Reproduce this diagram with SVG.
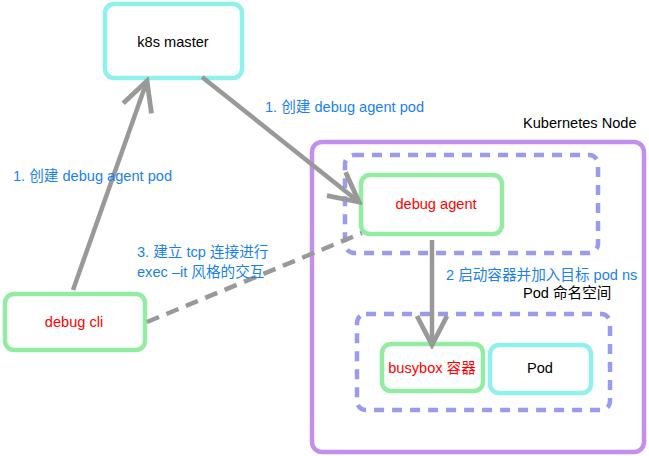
<svg xmlns="http://www.w3.org/2000/svg" width="649" height="456" viewBox="0 0 649 456">
<style>
text{font-family:"Liberation Sans","Noto Sans CJK SC",sans-serif;font-size:14.6px;dominant-baseline:central}
.blk{fill:#000}
.red{fill:#FF0000}
.blue{fill:#1A7FF2}
.g{fill:#fff;stroke:#92EDA3;stroke-width:4.5}
.c{fill:#fff;stroke:#90F0EC;stroke-width:4.5}
.p{fill:#fff;stroke:#C38FEF;stroke-width:4.5}
.d{fill:none;stroke:#9A9AEE;stroke-width:4.5;stroke-dasharray:10 8}
.ln{fill:none;stroke:#999;stroke-width:4.5}
</style>
<defs>
<marker id="ah" markerUnits="userSpaceOnUse" viewBox="-40 -20 44 40" refX="0" refY="0" markerWidth="44" markerHeight="40" orient="auto">
<path d="M-29,-15 L0,0 L-29,15" fill="none" stroke="#999" stroke-width="4.8"/>
</marker>
</defs>
<g id="node-k8s">
<rect class="c" x="105" y="4" width="137" height="74" rx="9"/>
<text class="blk" x="173" y="42" text-anchor="middle">k8s master</text>
</g>
<g id="kubernetes-node">
<rect class="p" x="312" y="142" width="332" height="310" rx="10"/>
<text class="blk" x="523" y="123">Kubernetes Node</text>
</g>
<g id="agent-area">
<rect class="d" x="345" y="155" width="253" height="98" rx="9"/>
</g>
<g id="pod-ns">
<rect class="d" x="357" y="314" width="253" height="96" rx="9"/>
<text class="blk" x="523" y="293">Pod 命名空间</text>
</g>
<g id="node-agent">
<rect class="g" x="361" y="175" width="141" height="59" rx="9"/>
<text class="red" x="436" y="204" text-anchor="middle">debug agent</text>
</g>
<g id="node-busybox">
<rect class="g" x="382" y="344" width="101" height="47" rx="9"/>
<text class="red" x="432" y="368" text-anchor="middle">busybox 容器</text>
</g>
<g id="node-pod">
<rect class="c" x="490" y="345" width="101" height="48" rx="9"/>
<text class="blk" x="540" y="368" text-anchor="middle">Pod</text>
</g>
<g id="node-cli">
<rect class="g" x="5" y="294" width="140" height="56" rx="9"/>
<text class="red" x="74" y="322" text-anchor="middle">debug cli</text>
</g>
<g id="connectors">
<line class="ln" x1="73" y1="290" x2="147" y2="81" marker-end="url(#ah)"/>
<line class="ln" x1="202" y1="77" x2="359" y2="202" marker-end="url(#ah)"/>
<line class="ln" x1="432" y1="240" x2="432" y2="345" marker-end="url(#ah)"/>
<line class="ln" x1="147" y1="322" x2="362" y2="233" stroke-dasharray="13 8"/>
<text class="blue" x="265" y="107">1. 创建 debug agent pod</text>
<text class="blue" x="13" y="176">1. 创建 debug agent pod</text>
<text class="blue" x="446" y="275">2 启动容器并加入目标 pod ns</text>
<text class="blue" x="137" y="252">3. 建立 tcp 连接进行</text>
<text class="blue" x="137" y="272">exec –it 风格的交互</text>
</g>
</svg>
